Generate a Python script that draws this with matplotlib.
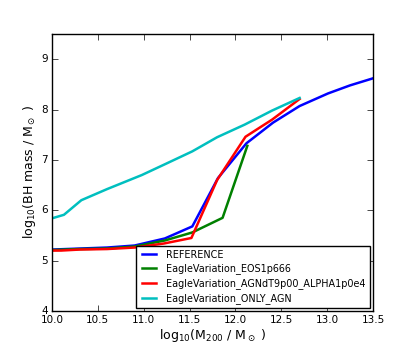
import numpy as np
import matplotlib
matplotlib.use('Agg')
import matplotlib.pyplot as plt

plt.style.use('classic')
plt.rcParams['mathtext.default'] = 'regular'

# halo mass bins and BH masses
ref_x = [10.0, 10.3, 10.6, 10.9, 11.23, 11.53, 11.81, 12.12, 12.41, 12.7, 13.01, 13.25, 13.5]
ref_y = [5.22, 5.24, 5.26, 5.30, 5.44, 5.68, 6.64, 7.33, 7.74, 8.07, 8.32, 8.48, 8.62]

eos_x = [10.0, 10.3, 10.6, 10.9, 11.23, 11.53, 11.86, 12.13]
eos_y = [5.21, 5.23, 5.24, 5.28, 5.40, 5.56, 5.85, 7.28]

agn_x = [10.0, 10.1, 10.3, 10.6, 10.9, 11.22, 11.52, 11.8, 12.11, 12.4, 12.7]
agn_y = [5.20, 5.20, 5.22, 5.23, 5.26, 5.34, 5.45, 6.60, 7.46, 7.80, 8.21]

only_x = [10.0, 10.13, 10.32, 10.6, 10.98, 11.25, 11.53, 11.8, 12.1, 12.4, 12.7]
only_y = [5.84, 5.91, 6.20, 6.42, 6.70, 6.93, 7.17, 7.45, 7.70, 7.98, 8.23]

labels = ['REFERENCE', 'EagleVariation_EOS1p666',
          'EagleVariation_AGNdT9p00_ALPHA1p0e4', 'EagleVariation_ONLY_AGN']

fig = plt.figure(figsize=(4.15, 3.46), dpi=100)
ax = fig.add_axes([52/415, 1 - 311/346, 321/415, 277/346])

ax.plot(ref_x, ref_y, color='b', lw=1.8, label=labels[0])
ax.plot(eos_x, eos_y, color='g', lw=1.8, label=labels[1])
ax.plot(agn_x, agn_y, color='r', lw=1.8, label=labels[2])
ax.plot(only_x, only_y, color='c', lw=1.8, label=labels[3])

ax.set_xlim(10, 13.5)
ax.set_ylim(4, 9.5)
ax.set_xticks(np.arange(10, 13.51, 0.5))
ax.set_yticks(range(4, 10))
ax.tick_params(labelsize=7.5, pad=3)
ax.set_xlabel('log$_{10}$(M$_{200}$ / M$_\\odot$ )', fontsize=9, labelpad=1)
ax.set_ylabel('log$_{10}$(BH mass / M$_\\odot$ )', fontsize=9, labelpad=2)
ax.legend(loc='lower right', fontsize=6.9, borderaxespad=0.35, labelspacing=0.4)

fig.savefig('out.png', dpi=100, facecolor='white')
